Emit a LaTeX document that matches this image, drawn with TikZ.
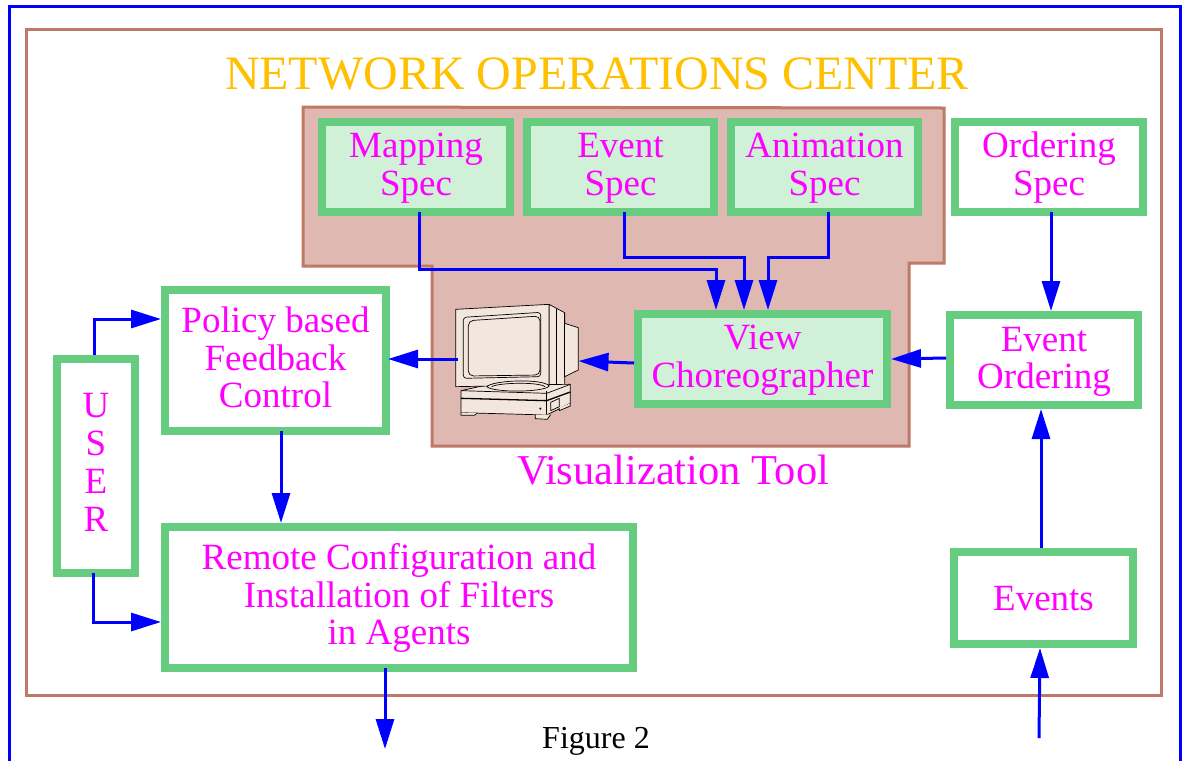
\documentclass[tikz,border=0pt]{standalone}
\usepackage{fontspec}
\setmainfont{Liberation Serif}
\usetikzlibrary{arrows.meta}
\definecolor{framebrown}{HTML}{C07868}
\definecolor{panel}{HTML}{DFB8B2}
\definecolor{boxgreen}{HTML}{66CC80}
\definecolor{palegreen}{HTML}{D0F0D8}
\definecolor{title}{HTML}{FFC000}
\definecolor{pcfill}{HTML}{F3E6DD}
\definecolor{lbl}{RGB}{255,0,255}
\newcommand{\lines}[2]{\raisebox{#1}[\height][\depth]{\begin{tabular}{@{}c@{}}#2\end{tabular}}}
\tikzset{
  gbox/.style={draw=boxgreen,line width=8pt,inner sep=0pt,text=lbl,
    font=\fontsize{37}{37.8}\selectfont},
  wbox/.style={gbox,fill=white},
  pbox/.style={gbox,fill=palegreen},
  conn/.style={draw=blue,line width=3pt,-{Triangle[length=30pt,width=18pt]}},
  pc/.style={draw=black,line width=0.7pt,fill=pcfill,line join=round},
  brownline/.style={draw=framebrown,line width=3pt}
}
\begin{document}
\begin{tikzpicture}[x=1pt,y=-1pt]
\useasboundingbox (0,0) rectangle (1182,761);
\fill[white] (0,0) rectangle (1182,761);
\draw[blue,line width=3pt] (9,761) -- (9,6.5) -- (1180,6.5) -- (1180,761);
\draw[brownline] (26,29) rectangle (1161,695);
\draw[brownline,fill=panel] (303,107) -- (944,108) -- (944,263) -- (909,263) -- (909,446) -- (432,446) -- (432,266) -- (303,266) -- cycle;
\node[text=title,font=\fontsize{48}{50}\selectfont] (ttl) at (597,74) {NETWORK OPERATIONS CENTER};
\node[text=lbl,font=\fontsize{42.5}{45}\selectfont] (vt) at (673,470) {Visualization Tool};
\node[font=\fontsize{32}{34}\selectfont] (fig) at (596,741) {Figure 2};

\node[pbox,minimum width=188pt,minimum height=90pt] (map) at (416,167) {\lines{-2pt}{Mapping\\Spec}};
\node[pbox,minimum width=187pt,minimum height=90pt] (evs) at (620.5,167) {\lines{-2pt}{Event\\Spec}};
\node[pbox,minimum width=187pt,minimum height=90pt] (ani) at (824.5,167) {\lines{-2pt}{Animation\\Spec}};
\node[wbox,minimum width=188pt,minimum height=90pt] (ord) at (1049,167) {\lines{-2pt}{Ordering\\Spec}};
\node[pbox,minimum width=249pt,minimum height=90pt] (view) at (762.5,359) {\lines{-2pt}{View\\Choreographer}};
\node[wbox,minimum width=188pt,minimum height=90pt] (eo) at (1044,360) {\lines{-2.5pt}{Event\\Ordering}};
\node[wbox,minimum width=221pt,minimum height=141pt] (pol) at (275.5,360.5) {\lines{-2pt}{Policy based\\Feedback\\Control}};
\node[wbox,minimum width=468pt,minimum height=141pt] (rem) at (399,597.5) {\lines{-2pt}{Remote Configuration and\\Installation of Filters\\in Agents}};
\node[wbox,minimum width=78pt,minimum height=214pt] (usr) at (96,466) {\lines{-1pt}{U\\S\\E\\R}};
\node[wbox,minimum width=179pt,minimum height=92pt] (evt) at (1043.5,598) {\lines{-5pt}{Events}};

% computer
\node[inner sep=0pt,outer sep=0pt,minimum width=121pt,minimum height=115pt] (comp) at (518,361) {};
\begin{scope}[shift={(430,280)},x=0.3333pt,y=-0.3333pt]
\draw[pc] (357,73) -- (404,98) -- (404,130) -- (445,143) -- (445,270) -- (404,290) -- (404,318) -- (357,318) -- cycle;
\draw[pc] (404,98) -- (404,290);
\draw[pc] (380,86) -- (380,318);
\draw[pc] (93,332) -- (170,315) -- (421,313) -- (421,370) -- (350,405) -- (93,398) -- cycle;
\draw[pc,fill=none] (93,332) -- (350,340) -- (421,313);
\draw[pc,fill=none,line width=1.3pt] (93,355) -- (350,362) -- (421,336);
\draw[pc,fill=none] (350,332) -- (350,405);
\draw[pc] (93,398) -- (93,406) -- (133,406) -- (143,399);
\draw[pc] (316,404) -- (316,416) -- (352,418) -- (362,404);
\draw[pc] (388,384) -- (388,392) -- (421,378) -- (421,370);
\draw[pc] (362,367) -- (388,355) -- (388,380) -- (362,392) -- cycle;
\draw[pc] (77,88) -- (357,73) -- (357,315) -- (77,320) -- cycle;
\draw[pc] (170,320) .. controls (190,300) and (340,295) .. (358,318) .. controls (340,338) and (190,338) .. (170,320) -- cycle;
\draw[pc,fill=none] (185,320) .. controls (205,308) and (325,305) .. (345,320);
\draw[pc,rounded corners=3pt] (100,112) -- (332,97) -- (332,290) -- (100,295) -- cycle;
\draw[pc,rounded corners=5pt] (115,122) -- (330,108) -- (330,285) -- (115,288) -- cycle;
\fill (331,386) circle (3.5);
\end{scope}

% connectors
\draw[conn] ([xshift=3pt,yshift=4pt]map.south) |- (419,269.5) -| ([xshift=-46.5pt]view.north);
\draw[conn] ([xshift=3.5pt,yshift=4pt]evs.south) |- (744,257.5) -- ([xshift=-18.5pt]view.north);
\draw[conn] ([xshift=3.5pt,yshift=4pt]ani.south) |- (768,257.5) -- ([xshift=5.5pt]view.north);
\draw[conn] ([xshift=2pt,yshift=4pt]ord.south) -- ([xshift=7pt]eo.north);
\draw[conn] ([yshift=2pt]eo.west) -- (view.east);
\draw[conn] ([yshift=-4pt]view.west) -- (comp.east);
\draw[conn] ([yshift=2pt]comp.west) -- ([xshift=-2pt,yshift=1.5pt]pol.east);
\draw[conn] ([xshift=5.5pt,yshift=4pt]pol.south) -- ([xshift=-118pt]rem.north);
\draw[conn] ([xshift=-2pt]usr.north) |- ([yshift=41.5pt]pol.west);
\draw[conn] ([xshift=-3pt,yshift=4pt]usr.south) |- ([yshift=-24.5pt]rem.west);
\draw[conn] (evt.north) ++(-2.5,0) -- ([xshift=-3pt]eo.south);
\coordinate (ext) at (1039,738);
\draw[conn] (ext) -- ([xshift=-3.5pt]evt.south);
\coordinate (out) at (385,749);
\draw[conn] ([xshift=-14pt,yshift=4pt]rem.south) -- (out);
\end{tikzpicture}
\end{document}
